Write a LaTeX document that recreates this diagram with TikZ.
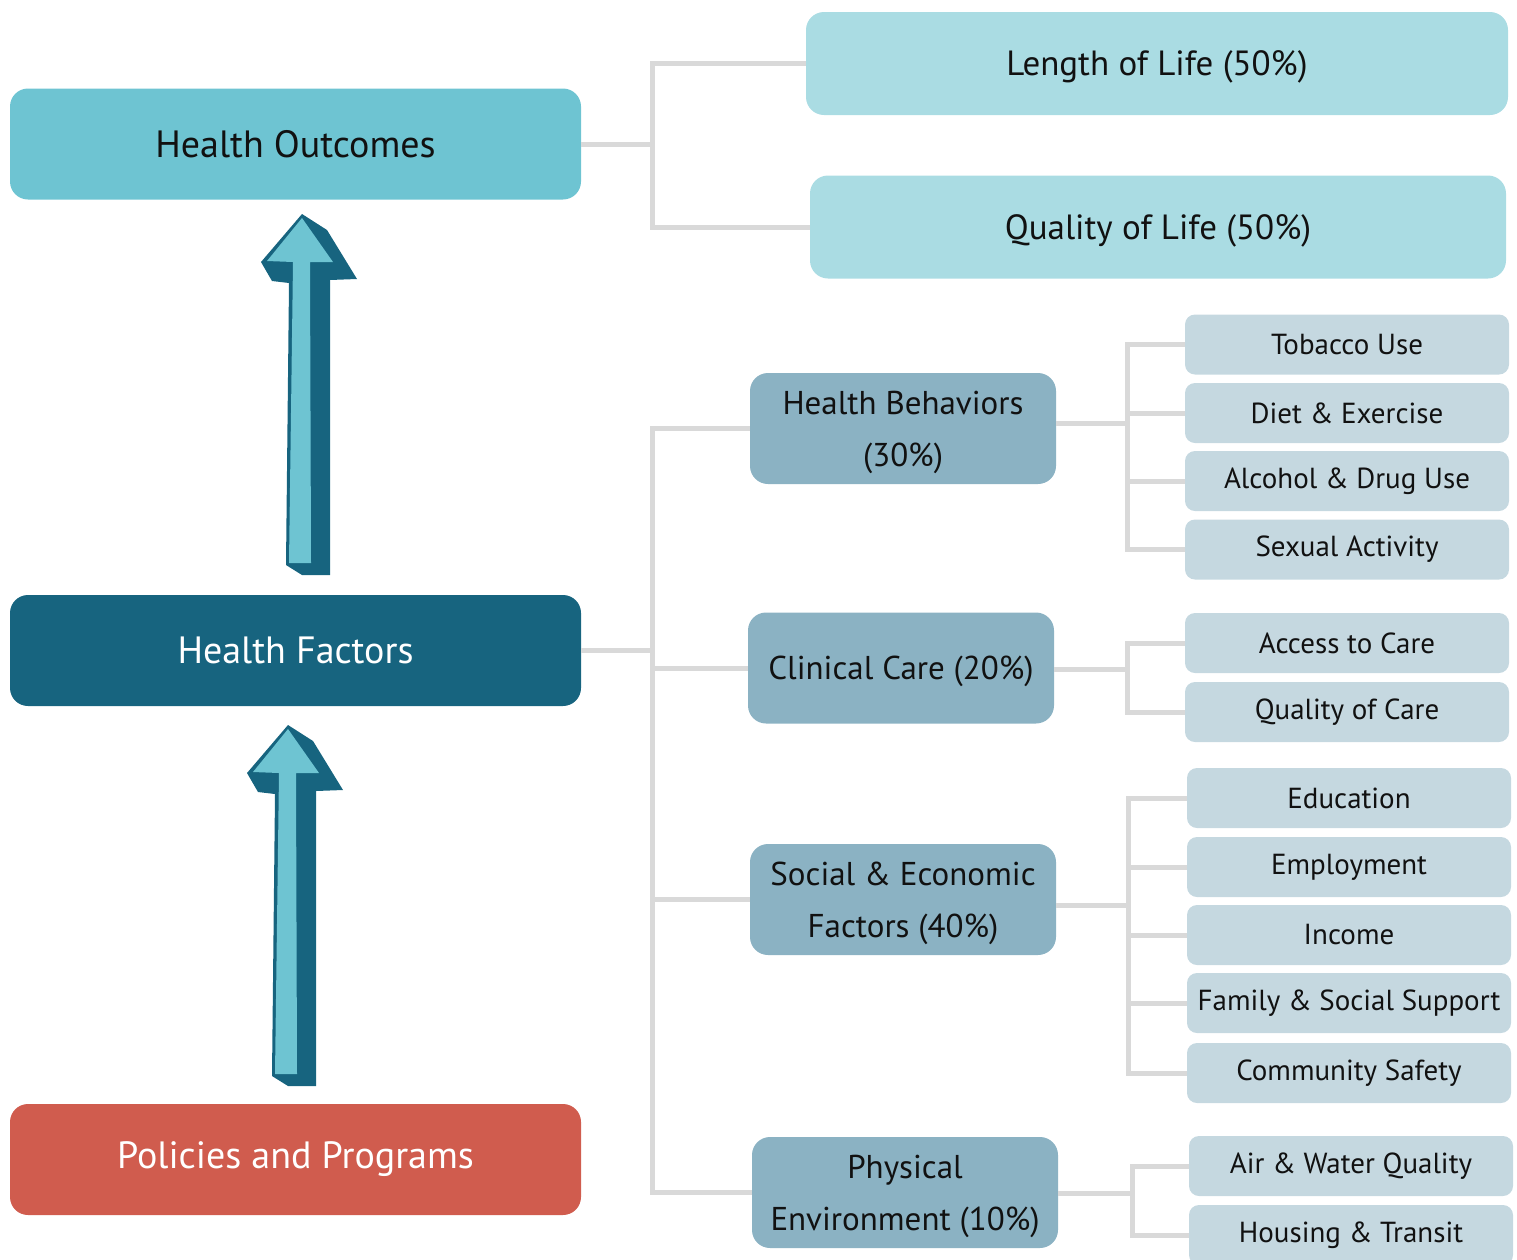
\documentclass[tikz,border=0pt]{standalone}
\usepackage{fontspec}
\setmainfont{PT Sans}
\definecolor{outcomecol}{HTML}{6EC4D2}
\definecolor{factorcol}{HTML}{17647F}
\definecolor{policycol}{HTML}{D05C4E}
\definecolor{lifecol}{HTML}{AADCE3}
\definecolor{groupcol}{HTML}{8BB2C3}
\definecolor{itemcol}{HTML}{C5D8E0}
\definecolor{linkcol}{HTML}{D9D9D9}
\definecolor{textcol}{HTML}{111111}
\tikzset{
  mainbox/.style={rounded corners=18pt,minimum width=571pt,minimum height=111pt,inner sep=0pt,font=\fontsize{38}{44}\selectfont},
  lifebox/.style={fill=lifecol,rounded corners=18pt,minimum height=103pt,inner sep=0pt,text depth=0pt,text=textcol,font=\fontsize{35}{42}\selectfont},
  groupbox/.style={fill=groupcol,rounded corners=18pt,minimum width=306pt,minimum height=111pt,inner sep=0pt,align=center,text depth=0pt,text=textcol,font=\fontsize{33}{52}\selectfont},
  itembox/.style={fill=itemcol,rounded corners=10pt,minimum width=324pt,minimum height=60pt,inner sep=0pt,text=textcol,font=\fontsize{29}{34}\selectfont},
  link/.style={draw=linkcol,line width=5pt},
  pics/uparrow/.style={code={
    \fill[factorcol] (0,0) -- (25,16) -- (55,65) -- (28,66) -- (28,361) -- (0,361) -- (-16,351) -- (-13,69) -- (-30,67) -- (-41,48) -- cycle;
    \fill[outcomecol] (0,4) -- (31,48) -- (8,48) -- (9,349) -- (-13,349) -- (-9,48) -- (-35,47) -- cycle;
  }}
}
\begin{document}
\begin{tikzpicture}[x=1pt,y=-1pt]
\useasboundingbox (0,0) rectangle (1517,1259);

\node[mainbox,fill=outcomecol,text=textcol] (ho) at (295.5,144) {Health Outcomes};
\node[mainbox,fill=factorcol,text=white] (hf) at (295.5,650.5) {Health Factors};
\node[mainbox,fill=policycol,text=white] (pp) at (295.5,1159.5) {Policies and Programs};

\pic at (302,214) {uparrow};
\pic at (288,725) {uparrow};

\node[lifebox,minimum width=702pt] (lol) at (1157,63.5) {Length of Life (50\%)};
\node[lifebox,minimum width=696pt] (qol) at (1158,227) {Quality of Life (50\%)};

\node[groupbox] (hb) at (903,428.5) {Health Behaviors\\(30\%)};
\node[groupbox] (cc) at (901,668) {Clinical Care (20\%)};
\node[groupbox] (se) at (903,899.5) {Social \& Economic\\Factors (40\%)};
\node[groupbox] (pe) at (905,1192.5) {Physical\\Environment (10\%)};

\node[itembox] (tu) at (1347,344.5) {Tobacco Use};
\node[itembox] (de) at (1347,413) {Diet \& Exercise};
\node[itembox] (ad) at (1347,481) {Alcohol \& Drug Use};
\node[itembox] (sa) at (1347,549.5) {Sexual Activity};

\node[itembox] (ac) at (1347,643) {Access to Care};
\node[itembox] (qc) at (1347,712) {Quality of Care};

\node[itembox] (ed) at (1349,798) {Education};
\node[itembox] (em) at (1349,867) {Employment};
\node[itembox] (in) at (1349,935) {Income};
\node[itembox] (fs) at (1349,1003) {Family \& Social Support};
\node[itembox] (cs) at (1349,1073) {Community Safety};

\node[itembox] (aw) at (1351,1166) {Air \& Water Quality};
\node[itembox] (ht) at (1351,1235) {Housing \& Transit};

\coordinate (hoj) at (652,144);
\coordinate (hfj) at (652,650.5);
\coordinate (hbj) at (1127,423);
\coordinate (ccj) at (1127,669);
\coordinate (sej) at (1128,905);
\coordinate (pej) at (1132,1193);

\draw[link] (ho.east) -- (hoj);
\draw[link] (hoj) |- (lol.west);
\draw[link] (hoj) |- (qol.west);

\draw[link] (hf.east) -- (hfj);
\draw[link] (hfj) |- (hb.west);
\draw[link] (hfj) |- (cc.west);
\draw[link] (hfj) |- (se.west);
\draw[link] (hfj) |- (pe.west);

\draw[link] (hb.east |- hbj) -- (hbj);
\draw[link] (hbj) |- (tu.west);
\draw[link] (hbj) |- (de.west);
\draw[link] (hbj) |- (ad.west);
\draw[link] (hbj) |- (sa.west);

\draw[link] (cc.east |- ccj) -- (ccj);
\draw[link] (ccj) |- (ac.west);
\draw[link] (ccj) |- (qc.west);

\draw[link] (se.east |- sej) -- (sej);
\draw[link] (sej) |- (ed.west);
\draw[link] (sej) |- (em.west);
\draw[link] (sej) |- (in.west);
\draw[link] (sej) |- (fs.west);
\draw[link] (sej) |- (cs.west);

\draw[link] (pe.east |- pej) -- (pej);
\draw[link] (pej) |- (aw.west);
\draw[link] (pej) |- (ht.west);
\end{tikzpicture}
\end{document}
